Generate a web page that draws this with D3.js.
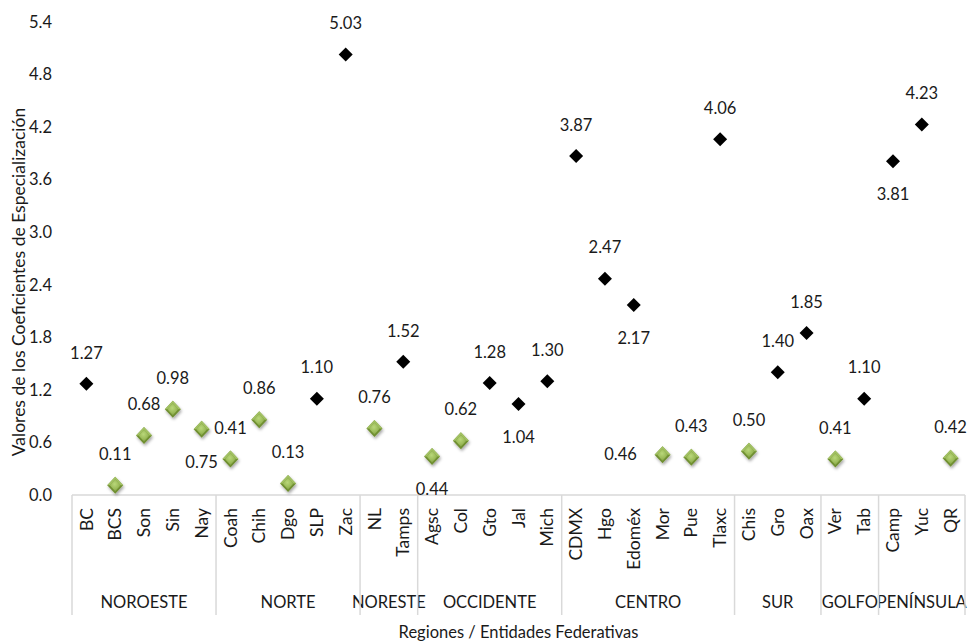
<!DOCTYPE html>
<html>
<head>
<meta charset="utf-8">
<script src="https://cdn.jsdelivr.net/npm/d3@7"></script>
<style>
  html, body { margin: 0; padding: 0; background: #fff; }
  svg { display: block; font-family: Lato, "Open Sans", sans-serif; }
</style>
</head>
<body>
<svg id="chart" width="970" height="644"></svg>
<script>
// ---- data ----
const categories = ["BC","BCS","Son","Sin","Nay","Coah","Chih","Dgo","SLP","Zac","NL","Tamps","Agsc","Col","Gto","Jal","Mich","CDMX","Hgo","Edoméx","Mor","Pue","Tlaxc","Chis","Gro","Oax","Ver","Tab","Camp","Yuc","QR"];
const values = [1.27,0.11,0.68,0.98,0.75,0.41,0.86,0.13,1.10,5.03,0.76,1.52,0.44,0.62,1.28,1.04,1.30,3.87,2.47,2.17,0.46,0.43,4.06,0.50,1.40,1.85,0.41,1.10,3.81,4.23,0.42];
const regions = ["NOROESTE","NORTE","NORESTE","OCCIDENTE","CENTRO","SUR","GOLFO","PENÍNSULA"];
const regionSizes = [5,5,2,5,6,3,2,3];
const yTicks = [0,0.6,1.2,1.8,2.4,3.0,3.6,4.2,4.8,5.4];
// label placement: t = above, b = below, l = left
const labelPos = ["t","t","t","t","b","t","t","t","t","t","t","t","b","t","t","b","t","t","t","b","l","t","t","t","t","t","t","t","b","t","t"];

const yTitle = "Valores de los Coeficientes de Especialización";
const xTitle = "Regiones / Entidades Federativas";

// ---- layout ----
const svg = d3.select("#chart");
const pLeft = 72, pRight = 965, pTop = 22, pBottom = 495;
const x = d3.scaleBand().domain(categories).range([pLeft, pRight]);
const y = d3.scaleLinear().domain([0, 5.4]).range([pBottom, pTop]);
const textColor = "#1a1a1a";
const lineColor = "#d9d9d9";
const fs = "16.5px";

// defs
const defs = svg.append("defs");
const grad = defs.append("radialGradient").attr("id","gGrad")
  .attr("cx","45%").attr("cy","40%").attr("r","65%");
grad.append("stop").attr("offset","0%").attr("stop-color","#b9d77a");
grad.append("stop").attr("offset","60%").attr("stop-color","#9bbb59");
grad.append("stop").attr("offset","100%").attr("stop-color","#7f9e40");
const shadow = defs.append("filter").attr("id","shadow")
  .attr("x","-50%").attr("y","-50%").attr("width","200%").attr("height","200%");
shadow.append("feDropShadow").attr("dx",1).attr("dy",2).attr("stdDeviation",1.6)
  .attr("flood-color","#000").attr("flood-opacity",0.35);

// y axis
const yAxis = d3.axisLeft(y).tickValues(yTicks).tickSize(0).tickPadding(20)
  .tickFormat(d3.format(".1f"));
const gy = svg.append("g").attr("transform", `translate(${pLeft},0)`).call(yAxis);
gy.select(".domain").remove();
gy.selectAll("text").attr("fill", textColor).style("font-size",fs)
  .style("font-family","Lato, sans-serif");

// x axis (categories)
const xAxis = d3.axisBottom(x).tickSize(0);
const gx = svg.append("g").attr("transform", `translate(0,${pBottom})`).call(xAxis);
gx.select(".domain").attr("stroke", lineColor).attr("stroke-width", 1.5)
  .attr("d", `M${pLeft},0H${pRight}`);
gx.selectAll("text")
  .attr("transform","rotate(-90)")
  .attr("x", -13).attr("y", 0).attr("dy","0.35em")
  .attr("text-anchor","end")
  .attr("fill", textColor)
  .style("font-size","17.5px")
  .style("font-family","Lato, sans-serif");

// region separators and labels
let idx = 0;
const bounds = [pLeft];
regions.forEach((r, i) => {
  const s = categories[idx];
  const e = categories[idx + regionSizes[i] - 1];
  const x0 = x(s), x1 = x(e) + x.bandwidth();
  bounds.push(x1);
  svg.append("text")
    .attr("x", (x0 + x1) / 2).attr("y", 608)
    .attr("text-anchor","middle")
    .attr("fill", textColor)
    .style("font-size","16.5px")
    .text(r);
  idx += regionSizes[i];
});
svg.append("g").selectAll("line").data(bounds).join("line")
  .attr("x1", d => d).attr("x2", d => d)
  .attr("y1", pBottom).attr("y2", 615)
  .attr("stroke", lineColor).attr("stroke-width", 1.5);

// markers
const pts = categories.map((c, i) => ({ c, v: values[i], pos: labelPos[i] }));
const mk = svg.append("g");
pts.forEach(p => {
  const cx = x(p.c) + x.bandwidth() / 2, cy = y(p.v);
  if (p.v >= 1) {
    const h = 7;
    mk.append("path")
      .attr("d", `M${cx},${cy - h}L${cx + h},${cy}L${cx},${cy + h}L${cx - h},${cy}Z`)
      .attr("fill", "#000");
  } else {
    const w = 8, h = 8.5;
    const g = mk.append("g").attr("filter","url(#shadow)");
    g.append("path")
      .attr("d", `M${cx},${cy - h}L${cx + w},${cy}L${cx},${cy + h}L${cx - w},${cy}Z`)
      .attr("fill", "#6f8f30");
    const w2 = 5.5, h2 = 6;
    g.append("path")
      .attr("d", `M${cx},${cy - h2}L${cx + w2},${cy}L${cx},${cy + h2}L${cx - w2},${cy}Z`)
      .attr("fill", "url(#gGrad)");
    g.append("path")
      .attr("d", `M${cx},${cy - h}L${cx + w},${cy}L${cx + w2},${cy}L${cx},${cy - h2}L${cx - w2},${cy}L${cx - w},${cy}Z`)
      .attr("fill", "#a9c86a").attr("opacity", 0.9);
  }
  let lx = cx, ly = cy;
  if (p.pos === "t") ly = cy - 31;
  else if (p.pos === "b") ly = cy + 33;
  else if (p.pos === "l") lx = cx - 42;
  svg.append("text")
    .attr("x", lx).attr("y", ly).attr("dy","0.35em")
    .attr("text-anchor","middle")
    .attr("fill", textColor)
    .style("font-size",fs)
    .text(d3.format(".2f")(p.v));
});

// axis titles
svg.append("text")
  .attr("transform", `translate(19,282) rotate(-90)`)
  .attr("text-anchor","middle").attr("dy","0.35em")
  .attr("fill", textColor).style("font-size","17.5px")
  .text(yTitle);
svg.append("text")
  .attr("x", (pLeft + pRight) / 2).attr("y", 638)
  .attr("text-anchor","middle")
  .attr("fill", textColor).style("font-size","16.5px")
  .text(xTitle);
</script>
</body>
</html>
